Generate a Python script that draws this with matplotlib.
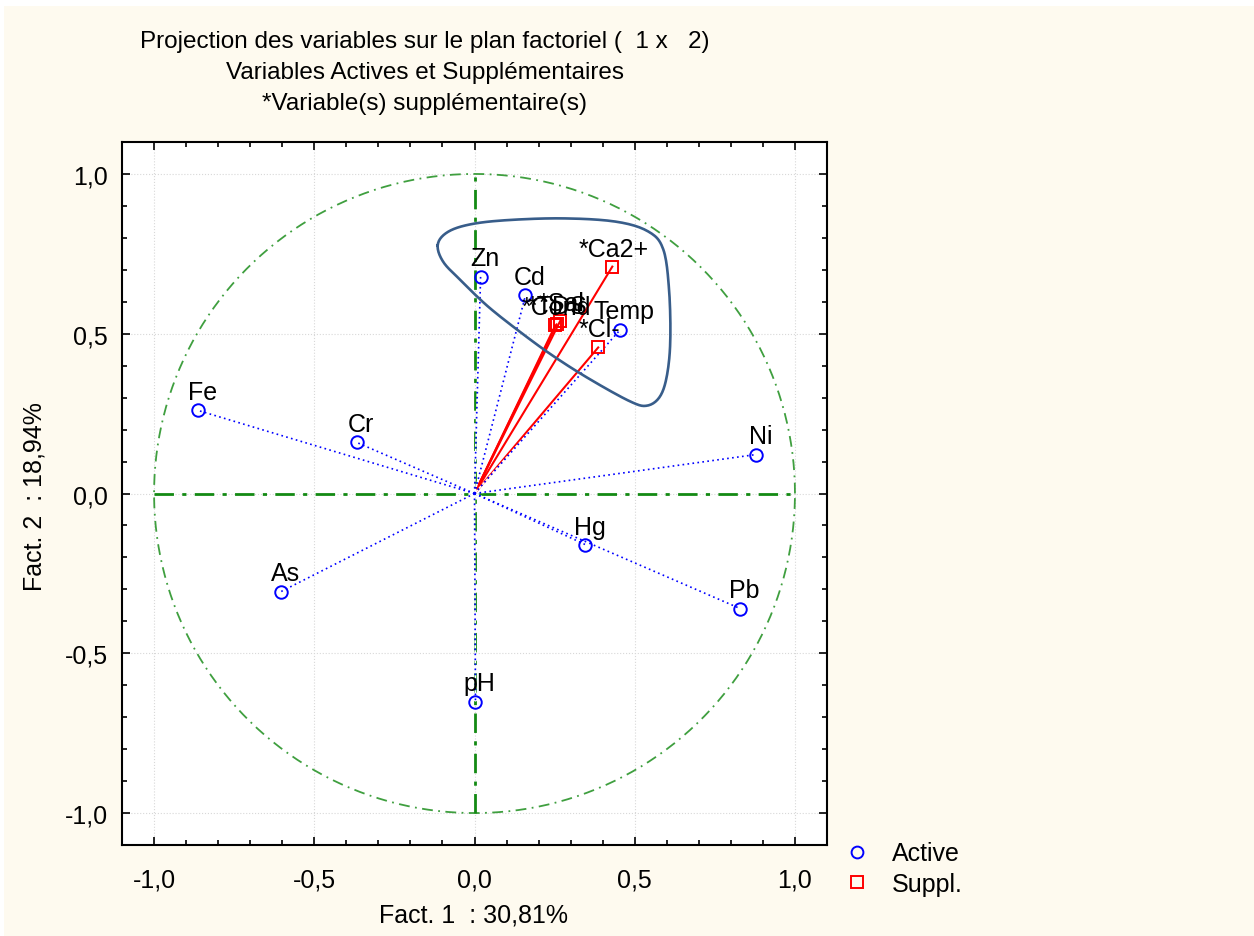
import numpy as np
import matplotlib.pyplot as plt
from matplotlib.lines import Line2D
from matplotlib.patches import Rectangle
from matplotlib.ticker import MultipleLocator, FuncFormatter

plt.rcParams.update({
    'font.family': ['Liberation Sans', 'DejaVu Sans'],
    'font.size': 18,
})

# active variables (Fact. 1, Fact. 2)
active_names = ['Zn', 'Cd', 'Temp', 'Fe', 'Cr', 'Ni', 'Hg', 'Pb', 'As', 'pH']
active_f1 = [0.019, 0.159, 0.455, -0.863, -0.368, 0.879, 0.346, 0.829, -0.604, 0.003]
active_f2 = [0.679, 0.620, 0.513, 0.260, 0.160, 0.122, -0.160, -0.360, -0.307, -0.651]

# supplementary variables
supp_names = ['*Ca2+', '*Cl-', '*Cond', '*TDS', '*Sal']
supp_f1 = [0.430, 0.386, 0.252, 0.256, 0.268]
supp_f2 = [0.710, 0.457, 0.526, 0.529, 0.541]

# hand drawn outline around the group (data coords)
outline_x = [-0.115, -0.090, -0.028, 0.081, 0.268, 0.439, 0.542, 0.589, 0.607, 0.611,
             0.601, 0.579, 0.539, 0.486, 0.361, 0.246, 0.143, 0.040, -0.044, -0.097]
outline_y = [0.776, 0.814, 0.839, 0.854, 0.861, 0.851, 0.820, 0.764, 0.639, 0.482,
             0.372, 0.304, 0.275, 0.288, 0.357, 0.430, 0.505, 0.587, 0.668, 0.724]

fig = plt.figure(figsize=(12.54, 9.37), dpi=100, facecolor='white')
fig.add_artist(Rectangle((4 / 1254, 0), 1, 1 - 7 / 937, transform=fig.transFigure,
                         facecolor='#FEFAEF', edgecolor='none', zorder=-10))
ax = fig.add_axes([0.0973, 0.0971, 0.5622, 0.7503])
ax.set_facecolor('white')

# unit circle and axes through origin
t = np.linspace(0, 2 * np.pi, 400)
ax.plot(np.cos(t), np.sin(t), color='#3f9f3f', lw=1.3, ls=(0, (6, 3, 1, 3)), zorder=2)
ax.plot([-1, 1], [0, 0], color='#138a13', lw=2, ls=(0, (7, 3, 1.5, 3)), zorder=2)
ax.plot([0, 0], [-1, 1], color='#138a13', lw=2, ls=(0, (7, 3, 1.5, 3)), zorder=2)

for x, y in zip(supp_f1, supp_f2):
    ax.plot([0, x], [0, y], color='red', lw=1.5, zorder=3)
for x, y in zip(active_f1, active_f2):
    ax.plot([0, x], [0, y], color='blue', lw=1.2, ls=(0, (1, 2)), gapcolor='white', zorder=4)

ax.plot(active_f1, active_f2, 'o', ms=9, mfc='none', mec='blue', mew=1.4, zorder=5)
ax.plot(supp_f1, supp_f2, 's', ms=9, mfc='none', mec='red', mew=1.4, zorder=5)

for name, x, y in zip(active_names, active_f1, active_f2):
    ax.annotate(name, (x, y), xytext=(3, 8), textcoords='offset points',
                ha='center', va='baseline', fontsize=18, zorder=6)
for name, x, y in zip(supp_names, supp_f1, supp_f2):
    ax.annotate(name, (x, y), xytext=(1, 8), textcoords='offset points',
                ha='center', va='baseline', fontsize=18, zorder=6)

# smooth closed outline
px = np.array(outline_x)
py = np.array(outline_y)
n = len(px)
sx, sy = [], []
for i in range(n):
    p0, p1, p2, p3 = [(px[(i + k) % n], py[(i + k) % n]) for k in (-1, 0, 1, 2)]
    for s in np.linspace(0, 1, 12, endpoint=False):
        s2, s3 = s * s, s * s * s
        for out, idx in ((sx, 0), (sy, 1)):
            out.append(0.5 * (2 * p1[idx] + (-p0[idx] + p2[idx]) * s
                              + (2 * p0[idx] - 5 * p1[idx] + 4 * p2[idx] - p3[idx]) * s2
                              + (-p0[idx] + 3 * p1[idx] - 3 * p2[idx] + p3[idx]) * s3))
sx.append(sx[0])
sy.append(sy[0])
ax.plot(sx, sy, color='#385d8a', lw=1.9, zorder=6)

ax.set_xlim(-1.1, 1.1)
ax.set_ylim(-1.1, 1.1)
ax.xaxis.set_major_locator(MultipleLocator(0.5))
ax.yaxis.set_major_locator(MultipleLocator(0.5))
ax.xaxis.set_minor_locator(MultipleLocator(0.1))
ax.yaxis.set_minor_locator(MultipleLocator(0.1))
fmt = FuncFormatter(lambda v, p: f'{v:.1f}'.replace('.', ',').replace('\u2212', '-'))
ax.xaxis.set_major_formatter(fmt)
ax.yaxis.set_major_formatter(fmt)
ax.grid(True, which='major', color='#d8d8d8', lw=0.8, ls=':', zorder=0)
ax.tick_params(which='both', direction='in', top=True, right=True, width=1.2, labelsize=18)
ax.tick_params(which='major', length=6)
ax.tick_params(which='minor', length=3.5)
ax.tick_params(axis='x', pad=16)
ax.tick_params(axis='y', pad=10)
for sp in ax.spines.values():
    sp.set_linewidth(1.5)

fig.text(474 / 1254, 1 - 916 / 937, 'Fact. 1  : 30,81%', ha='center', va='center', fontsize=18)
fig.text(35 / 1254, 1 - 497 / 937, 'Fact. 2  : 18,94%', ha='center', va='center',
         rotation=90, fontsize=18)

titles = ['Projection des variables sur le plan factoriel (  1 x   2)',
          'Variables Actives et Supplémentaires',
          '*Variable(s) supplémentaire(s)']
for k, line in enumerate(titles):
    fig.text(425 / 1254, 1 - (42 + 31 * k) / 937, line, ha='center', va='center', fontsize=17.5)

handles = [
    Line2D([0], [0], marker='o', ls='None', ms=8.5, mfc='none', mec='blue', mew=1.4, label='Active'),
    Line2D([0], [0], marker='s', ls='None', ms=8, mfc='none', mec='red', mew=1.4, label='Suppl.'),
]
fig.legend(handles=handles, loc='upper left', bbox_to_anchor=(832 / 1254, 1 - 830 / 937),
           frameon=False, fontsize=18, handlelength=1, handletextpad=0.9,
           labelspacing=0.25, borderpad=0)

plt.savefig('out.png', dpi=100, facecolor=fig.get_facecolor())
